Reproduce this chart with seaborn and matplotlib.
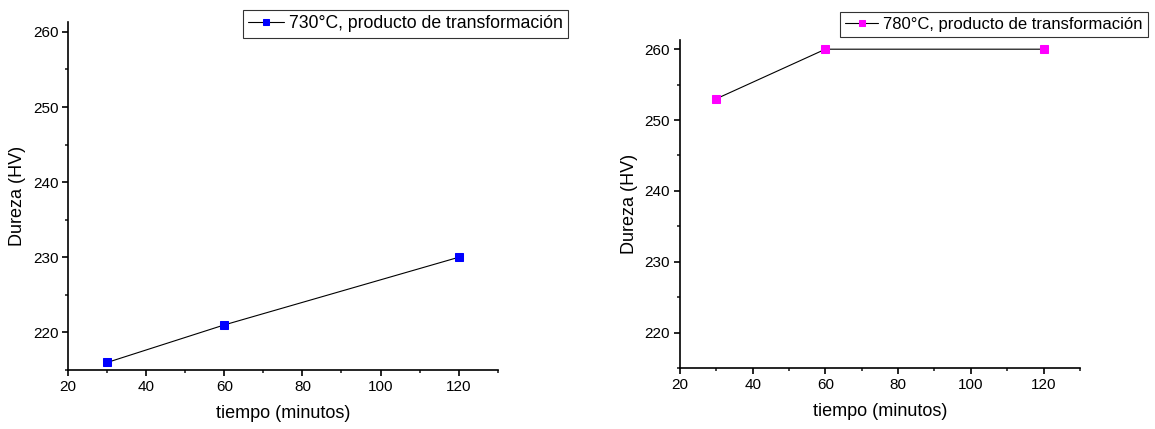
import matplotlib
matplotlib.use("Agg")
import matplotlib.pyplot as plt
from matplotlib.ticker import MultipleLocator
import seaborn as sns
import pandas as pd

# Hardness vs. holding time for two transformation temperatures
tiempo = [30, 60, 120]
dureza_730 = [216, 221, 230]
dureza_780 = [253, 260, 260]
label_730 = "730°C, producto de transformación"
label_780 = "780°C, producto de transformación"
xlabel = "tiempo (minutos)"
ylabel = "Dureza (HV)"

sns.set_style("ticks")
plt.rcParams["font.family"] = ["Liberation Sans", "DejaVu Sans"]
plt.rcParams["text.color"] = "black"
plt.rcParams["axes.labelcolor"] = "black"

fig = plt.figure(figsize=(11.55, 4.29), dpi=100)
ax1 = fig.add_axes([0.0589, 0.1375, 0.372, 0.811])
ax2 = fig.add_axes([0.5887, 0.1422, 0.3463, 0.7646])

panels = [
    (ax1, dureza_730, label_730, "#0000ff", "upper left", (0.2104, 0.9767), 12.7),
    (ax2, dureza_780, label_780, "#ff00ff", "upper right", (0.9939, 0.9720), 12),
]

for ax, vals, lab, col, legloc, legpos, legfs in panels:
    df = pd.DataFrame({"t": tiempo, "hv": vals})
    sns.lineplot(data=df, x="t", y="hv", ax=ax, color="black", linewidth=0.8,
                 marker="s", markersize=5.3, markerfacecolor=col,
                 markeredgecolor=col, label=lab)
    ax.set_xlim(20, 130)
    ax.set_ylim(215, 261.3)
    ax.xaxis.set_major_locator(MultipleLocator(20))
    ax.xaxis.set_minor_locator(MultipleLocator(10))
    ax.yaxis.set_major_locator(MultipleLocator(10))
    ax.yaxis.set_minor_locator(MultipleLocator(5))
    ax.tick_params(which="major", direction="out", length=4, width=1.2,
                   labelsize=11, colors="black", pad=3)
    ax.tick_params(which="minor", direction="out", length=2.5, width=1.2)
    for s in ("top", "right"):
        ax.spines[s].set_visible(False)
    for s in ("left", "bottom"):
        ax.spines[s].set_color("black")
        ax.spines[s].set_linewidth(1.2)
    ax.set_xlabel(xlabel, fontsize=13, labelpad=8)
    ax.set_ylabel(ylabel, fontsize=13, labelpad=5)
    leg = ax.legend(loc=legloc, bbox_to_anchor=legpos,
                    bbox_transform=fig.transFigure, fontsize=legfs,
                    frameon=True, fancybox=False, borderpad=0.3,
                    handlelength=2.0, handletextpad=0.3, borderaxespad=0)
    leg.get_frame().set_edgecolor("black")
    leg.get_frame().set_linewidth(0.8)
    for h in leg.legend_handles:
        h.set_markersize(4.5)

fig.savefig("out.png", dpi=100, facecolor="white")
